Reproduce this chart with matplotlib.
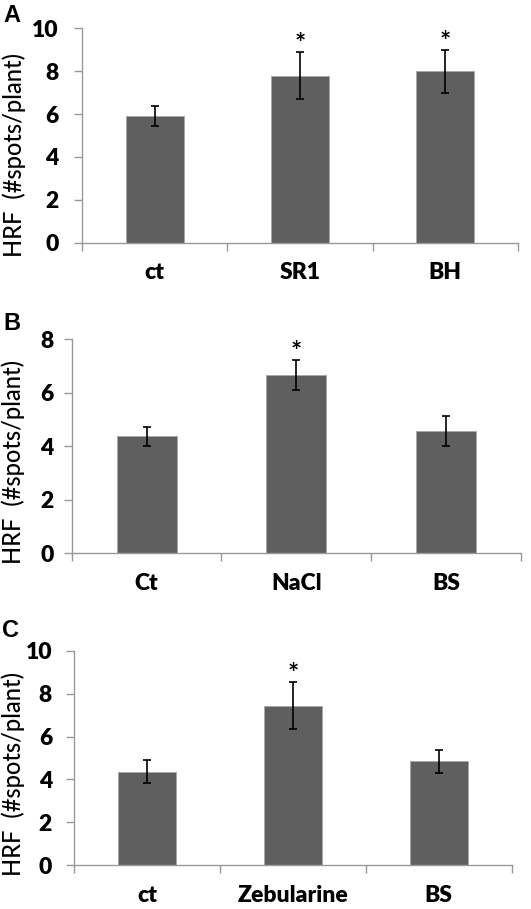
import matplotlib
matplotlib.use("Agg")
import matplotlib.pyplot as plt
import numpy as np

# Data
cats_a = ["ct", "SR1", "BH"]
vals_a = [5.9, 7.8, 8.0]
errs_a = [0.47, 1.1, 1.0]
star_a = [False, True, True]

cats_b = ["Ct", "NaCl", "BS"]
vals_b = [4.37, 6.67, 4.56]
errs_b = [0.34, 0.55, 0.56]
star_b = [False, True, False]

cats_c = ["ct", "Zebularine", "BS"]
vals_c = [4.36, 7.44, 4.84]
errs_c = [0.53, 1.11, 0.53]
star_c = [False, True, False]

ylims = [10, 8, 10]
letters = ["A", "B", "C"]

BAR = "#5f5f5f"
AXC = "#999999"
FONT = "Lato"

fig = plt.figure(figsize=(5.31, 9.09), dpi=100)

# axes rectangles in figure fractions
rects = [
    [0.1544, 0.733, 0.821, 0.2358],
    [0.135, 0.3913, 0.846, 0.2354],
    [0.140, 0.0481, 0.8237, 0.2361],
]
ylab_pos = [(-0.128, 0.409), (-0.104, 0.429), (-0.113, 0.425)]
ytick_pad = [11, 7, 10]
letter_pos = [(3, 22), (3, 330), (2, 637)]

panels = [
    (cats_a, vals_a, errs_a, star_a),
    (cats_b, vals_b, errs_b, star_b),
    (cats_c, vals_c, errs_c, star_c),
]

for i, (cats, vals, errs, stars) in enumerate(panels):
    ax = fig.add_axes(rects[i])
    x = np.arange(len(cats))
    ax.bar(x, vals, width=0.4, color=BAR, edgecolor="#a8a8a8", linewidth=0.7, zorder=2)
    ax.errorbar(x, vals, yerr=errs, fmt="none", ecolor="black", elinewidth=1.2,
                capsize=3.1, capthick=1.2, zorder=3)
    for xi, v, e, s in zip(x, vals, errs, stars):
        if s:
            ax.annotate("*", xy=(xi, v + e), xytext=(0, -3), textcoords="offset points",
                        ha="center", va="bottom", fontsize=19, fontweight="bold",
                        family=FONT)

    ax.set_xlim(-0.5, len(cats) - 0.5)
    ax.set_ylim(0, ylims[i])
    ax.set_yticks(np.arange(0, ylims[i] + 1, 2))
    ax.set_xticks(np.arange(-0.5, len(cats), 1.0))
    ax.set_xticklabels([])
    ax.set_xticks(x, minor=True)
    ax.set_xticklabels(cats, minor=True, fontsize=16.5, fontweight="heavy", family=FONT)
    ax.tick_params(axis="x", which="minor", length=0, pad=14)
    ax.tick_params(axis="x", which="major", length=6, width=1, color=AXC, direction="out")
    ax.tick_params(axis="y", length=6, width=1, color=AXC, direction="out", pad=ytick_pad[i])
    for lab in ax.get_yticklabels():
        lab.set_fontsize(16.5)
        lab.set_fontweight("heavy")
        lab.set_family(FONT)

    for sp in ["top", "right"]:
        ax.spines[sp].set_visible(False)
    for sp in ["left", "bottom"]:
        ax.spines[sp].set_color(AXC)
        ax.spines[sp].set_linewidth(1)

    ax.set_ylabel("HRF  (#spots/plant)", fontsize=17, family=FONT, fontweight="medium")
    ax.yaxis.set_label_coords(*ylab_pos[i])

    lx, ly = letter_pos[i]
    fig.text(lx / 531, 1 - ly / 909, letters[i], fontsize=17, fontweight="bold",
             family="Liberation Sans", ha="left", va="baseline")

fig.savefig("out.png", dpi=100)
